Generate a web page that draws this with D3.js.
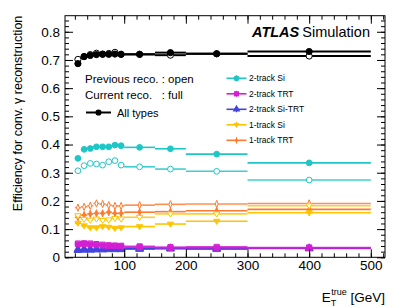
<!DOCTYPE html>
<html>
<head>
<meta charset="utf-8">
<script src="https://cdn.jsdelivr.net/npm/d3@7"></script>
<style>
  body { margin: 0; background: #fff; }
  svg { font-family: "Liberation Sans", Arial, Helvetica, sans-serif; }
</style>
</head>
<body>
<div id="chart"></div>
<script>
// bins in E_T^true [GeV]
var binLo = [20, 30, 40, 50, 60, 70, 80, 90, 100, 150, 200, 300];
var binHi = [30, 40, 50, 60, 70, 80, 90, 100, 150, 200, 300, 500];
var binErr = [0.006, 0.005, 0.005, 0.005, 0.005, 0.005, 0.005, 0.005, 0.004, 0.004, 0.004, 0.004];

// current reco (full markers) / previous reco (open markers)
var allCur   = [0.687, 0.712, 0.716, 0.719, 0.720, 0.720, 0.721, 0.720, 0.720, 0.726, 0.722, 0.730];
var allPrev  = [0.702, 0.712, 0.719, 0.724, 0.721, 0.723, 0.727, 0.720, 0.720, 0.717, 0.722, 0.714];
var siCur    = [0.351, 0.383, 0.386, 0.392, 0.392, 0.392, 0.398, 0.396, 0.390, 0.385, 0.366, 0.335];
var siPrev   = [0.307, 0.325, 0.333, 0.331, 0.327, 0.339, 0.343, 0.327, 0.321, 0.313, 0.305, 0.274];
var trtCur   = [0.046, 0.047, 0.046, 0.044, 0.042, 0.040, 0.040, 0.039, 0.036, 0.034, 0.034, 0.033];
var trtPrev  = [0.049, 0.050, 0.049, 0.047, 0.045, 0.043, 0.042, 0.041, 0.039, 0.036, 0.037, 0.035];
var sitrtCur = [0.027, 0.028, 0.028, 0.029, 0.029, 0.030, 0.030, 0.030, 0.031, 0.032, 0.031, 0.032];
var sitrtPrev= [0.025, 0.026, 0.026, 0.027, 0.027, 0.028, 0.028, 0.028, 0.029, 0.030, 0.029, 0.031];
var oneSiCur = [0.121, 0.112, 0.105, 0.105, 0.109, 0.107, 0.103, 0.105, 0.109, 0.118, 0.128, 0.158];
var oneSiPrev= [0.148, 0.135, 0.132, 0.136, 0.131, 0.133, 0.138, 0.136, 0.142, 0.154, 0.154, 0.183];
var oneTrtCur= [0.142, 0.150, 0.154, 0.156, 0.156, 0.160, 0.156, 0.156, 0.160, 0.162, 0.165, 0.170];
var oneTrtPrev=[0.176, 0.179, 0.183, 0.191, 0.189, 0.185, 0.182, 0.182, 0.185, 0.188, 0.189, 0.191];

var xTicks = [100, 200, 300, 400, 500];
var yTicks = [0, 0.1, 0.2, 0.3, 0.4, 0.5, 0.6, 0.7, 0.8];

var W = 407, H = 307;
var L = 65, R = 385, T = 15.7, B = 257.3;

var svg = d3.select('#chart').append('svg')
  .attr('width', W).attr('height', H);

var x = d3.scaleLinear().domain([4, 523]).range([L, R]);
var y = d3.scaleLinear().domain([0, 0.857]).range([B, T]);

// narrow diamond for the 1-track TRT marker
var thinDiamond = {
  draw: function(ctx, size) {
    var h = Math.sqrt(size) * 0.75, w = h * 0.4;
    ctx.moveTo(0, -h); ctx.lineTo(w, 0); ctx.lineTo(0, h); ctx.lineTo(-w, 0); ctx.closePath();
  }
};
var triDown = {
  draw: function(ctx, size) {
    var s = Math.sqrt(size) * 0.62;
    ctx.moveTo(-s, -s * 0.6); ctx.lineTo(s, -s * 0.6); ctx.lineTo(0, s * 1.0); ctx.closePath();
  }
};

var series = [
  { name: 'All types',      cur: allCur,    prev: allPrev,    color: '#000000', sym: d3.symbolCircle, size: 30, lw: 2 },
  { name: '2-track Si',     cur: siCur,     prev: siPrev,     color: '#1fc6c6', sym: d3.symbolCircle, size: 26, lw: 1.6 },
  { name: '2-track TRT',    cur: trtCur,    prev: trtPrev,    color: '#d21fd2', sym: d3.symbolSquare, size: 26, lw: 1.6 },
  { name: '2-track Si-TRT', cur: sitrtCur,  prev: sitrtPrev,  color: '#4444dd', sym: d3.symbolTriangle, size: 26, lw: 1.6 },
  { name: '1-track Si',     cur: oneSiCur,  prev: oneSiPrev,  color: '#ffc400', sym: triDown, size: 26, lw: 1.6 },
  { name: '1-track TRT',    cur: oneTrtCur, prev: oneTrtPrev, color: '#ff7a30', sym: thinDiamond, size: 24, lw: 1.6 }
];

var plot = svg.append('g');

// draw colored first, black on top
var order = [5, 4, 3, 2, 1, 0];
order.forEach(function(si) {
  var s = series[si];
  ['prev', 'cur'].forEach(function(kind) {
    var vals = s[kind];
    var g = plot.append('g');
    vals.forEach(function(v, i) {
      g.append('line')
        .attr('x1', x(binLo[i])).attr('x2', x(binHi[i]))
        .attr('y1', y(v)).attr('y2', y(v))
        .attr('stroke', s.color).attr('stroke-width', s.lw)
        .attr('stroke-opacity', kind === 'prev' && si > 0 ? 0.85 : 1);
      var xc = x((binLo[i] + binHi[i]) / 2);
      g.append('line')
        .attr('x1', xc).attr('x2', xc)
        .attr('y1', y(v - binErr[i])).attr('y2', y(v + binErr[i]))
        .attr('stroke', s.color).attr('stroke-width', 1);
    });
    g.selectAll('path.m').data(vals).enter().append('path')
      .attr('class', 'm')
      .attr('d', d3.symbol().type(s.sym).size(s.size))
      .attr('transform', function(v, i) {
        return 'translate(' + x((binLo[i] + binHi[i]) / 2) + ',' + y(v) + ')';
      })
      .attr('fill', kind === 'cur' ? s.color : '#fff')
      .attr('stroke', s.color).attr('stroke-width', 1);
  });
});

// frame + axes (ticks inside, ROOT style)
var minorX = d3.range(20, 521, 20);
var minorY = d3.range(0, 0.857, 0.02);

function fmtY(d) { return d === 0 ? '0' : d3.format('.1f')(d); }

svg.append('g').attr('transform', 'translate(0,' + B + ')')
  .call(d3.axisBottom(x).tickValues(minorX).tickSize(-4).tickFormat(''));
svg.append('g').attr('transform', 'translate(0,' + B + ')')
  .call(d3.axisBottom(x).tickValues(xTicks).tickSize(-8).tickPadding(3).tickFormat(d3.format('d')));
svg.append('g').attr('transform', 'translate(0,' + T + ')')
  .call(d3.axisTop(x).tickValues(minorX).tickSize(-4).tickFormat(''));
svg.append('g').attr('transform', 'translate(0,' + T + ')')
  .call(d3.axisTop(x).tickValues(xTicks).tickSize(-8).tickFormat(''));

svg.append('g').attr('transform', 'translate(' + L + ',0)')
  .call(d3.axisLeft(y).tickValues(minorY).tickSize(-4).tickFormat(''));
svg.append('g').attr('transform', 'translate(' + L + ',0)')
  .call(d3.axisLeft(y).tickValues(yTicks).tickSize(-8).tickPadding(5).tickFormat(fmtY));
svg.append('g').attr('transform', 'translate(' + R + ',0)')
  .call(d3.axisRight(y).tickValues(minorY).tickSize(-4).tickFormat(''));
svg.append('g').attr('transform', 'translate(' + R + ',0)')
  .call(d3.axisRight(y).tickValues(yTicks).tickSize(-8).tickFormat(''));

svg.selectAll('.domain').remove();
svg.selectAll('.tick line').attr('stroke', '#000');
svg.selectAll('.tick text').attr('font-size', 13.5).attr('fill', '#000')
  .attr('font-family', '"Liberation Sans", Arial, sans-serif');

svg.append('rect').attr('x', L).attr('y', T).attr('width', R - L).attr('height', B - T)
  .attr('fill', 'none').attr('stroke', '#000').attr('stroke-width', 1);

// axis titles
svg.append('text')
  .attr('transform', 'translate(22,' + T + ') rotate(-90)')
  .attr('text-anchor', 'end').attr('font-size', 12.5)
  .text('Efficiency for conv. \u03b3 reconstruction');

var xt = svg.append('text').attr('x', R).attr('y', 302).attr('text-anchor', 'end').attr('font-size', 13.5);
xt.append('tspan').text('E');
xt.append('tspan').attr('font-size', 9).attr('dy', 4).text('T');
xt.append('tspan').attr('font-size', 9).attr('dx', -5).attr('dy', -11).text('true');
xt.append('tspan').attr('dy', 7).text(' [GeV]');

// ATLAS label
var atl = svg.append('text').attr('x', 252).attr('y', 37).attr('font-size', 14.5);
atl.append('tspan').attr('font-weight', 'bold').attr('font-style', 'italic').text('ATLAS');
atl.append('tspan').attr('dx', 3).text('Simulation');

// left legend
svg.append('text').attr('x', 85).attr('y', 83).attr('font-size', 11.5).text('Previous reco. : open');
svg.append('text').attr('x', 85).attr('y', 98.5).attr('font-size', 11.5).attr('xml:space', 'preserve')
  .text('Current reco.   : full');

var legAll = svg.append('g');
legAll.append('line').attr('x1', 86).attr('x2', 111).attr('y1', 112.5).attr('y2', 112.5)
  .attr('stroke', '#000').attr('stroke-width', 2);
legAll.append('path').attr('d', d3.symbol().type(d3.symbolCircle).size(30))
  .attr('transform', 'translate(98.5,112.5)').attr('fill', '#000');
legAll.append('text').attr('x', 117).attr('y', 116.5).attr('font-size', 11).text('All types');

// right legend
var legY = [78.3, 93.8, 109.3, 124.8, 140.3];
series.slice(1).forEach(function(s, i) {
  var g = svg.append('g');
  g.append('line').attr('x1', 226.5).attr('x2', 246.5).attr('y1', legY[i]).attr('y2', legY[i])
    .attr('stroke', s.color).attr('stroke-width', 1.6);
  g.append('line').attr('x1', 236.5).attr('x2', 236.5).attr('y1', legY[i] - 3).attr('y2', legY[i] + 3)
    .attr('stroke', s.color).attr('stroke-width', 1);
  g.append('path').attr('d', d3.symbol().type(s.sym).size(s.size))
    .attr('transform', 'translate(236.5,' + legY[i] + ')').attr('fill', s.color);
  g.append('text').attr('x', 249).attr('y', legY[i] + 3).attr('font-size', 8.5).text(s.name);
});
</script>
</body>
</html>
